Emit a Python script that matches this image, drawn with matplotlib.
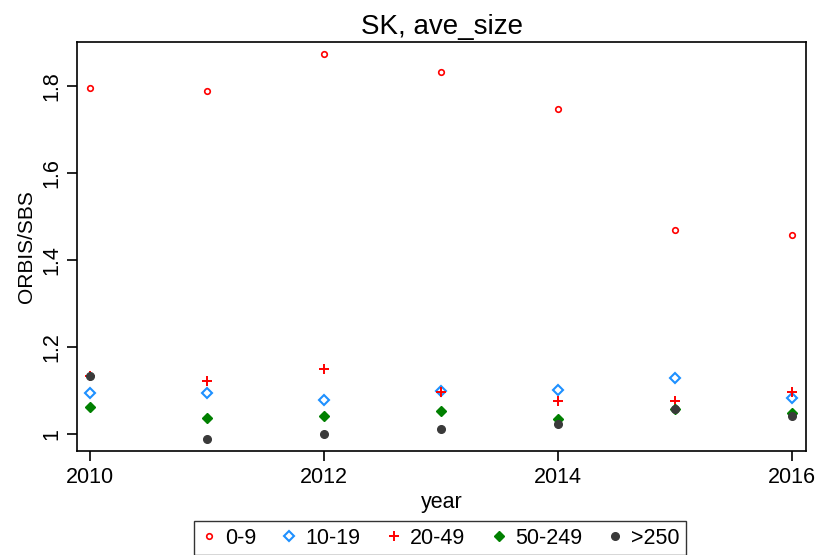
import numpy as np
import matplotlib.pyplot as plt

plt.rcParams['font.family'] = ['Liberation Sans', 'DejaVu Sans']

years = [2010, 2011, 2012, 2013, 2014, 2015, 2016]
s_0_9 = [1.795, 1.789, 1.874, 1.832, 1.747, 1.469, 1.457]
s_10_19 = [1.094, 1.094, 1.078, 1.099, 1.101, 1.129, 1.083]
s_20_49 = [1.133, 1.122, 1.149, 1.097, 1.076, 1.076, 1.097]
s_50_249 = [1.062, 1.037, 1.041, 1.053, 1.034, 1.057, 1.048]
s_250 = [1.133, 0.988, 1.000, 1.011, 1.023, 1.057, 1.040]

fig = plt.figure(figsize=(8.27, 5.55), dpi=100)
ax = fig.add_axes([0.093, 0.188, 0.882, 0.736])

ax.plot(years, s_0_9, 'o', ls='none', ms=4, mfc='white', mec='#ff0000', mew=1.2, label='0-9')
ax.plot(years, s_10_19, 'D', ls='none', ms=5, mfc='white', mec='#1e90ff', mew=1.5, label='10-19')
ax.plot(years, s_20_49, '+', ls='none', ms=7, mec='#ff0000', mew=1.4, label='20-49')
ax.plot(years, s_50_249, 'D', ls='none', ms=5.5, color='#008000', label='50-249')
ax.plot(years, s_250, 'o', ls='none', ms=5.5, color='#3a3a3a', label='>250')

ax.set_xlim(2009.89, 2016.12)
ax.set_ylim(0.961, 1.901)
ax.set_xticks([2010, 2012, 2014, 2016])
ax.set_yticks([1.0, 1.2, 1.4, 1.6, 1.8])
ax.set_yticklabels(['1', '1.2', '1.4', '1.6', '1.8'], rotation=90, va='center')
ax.tick_params(labelsize=15.5, length=7, width=1.2)
ax.tick_params(axis='x', pad=5)
for sp in ax.spines.values():
    sp.set_linewidth(1.2)

ax.set_title('SK, ave_size', fontsize=20, pad=6)
ax.set_xlabel('year', fontsize=15.5, labelpad=3)
ax.set_ylabel('ORBIS/SBS', fontsize=15)

leg = fig.legend(loc='upper center', bbox_to_anchor=(0.532, 0.061), ncol=5,
                 fontsize=15.5, frameon=True, fancybox=False, edgecolor='black',
                 handlelength=0.8, handletextpad=0.35, columnspacing=1.15,
                 borderpad=0.3, borderaxespad=0)
leg.get_frame().set_linewidth(1.0)

fig.savefig('out.png', dpi=100)
